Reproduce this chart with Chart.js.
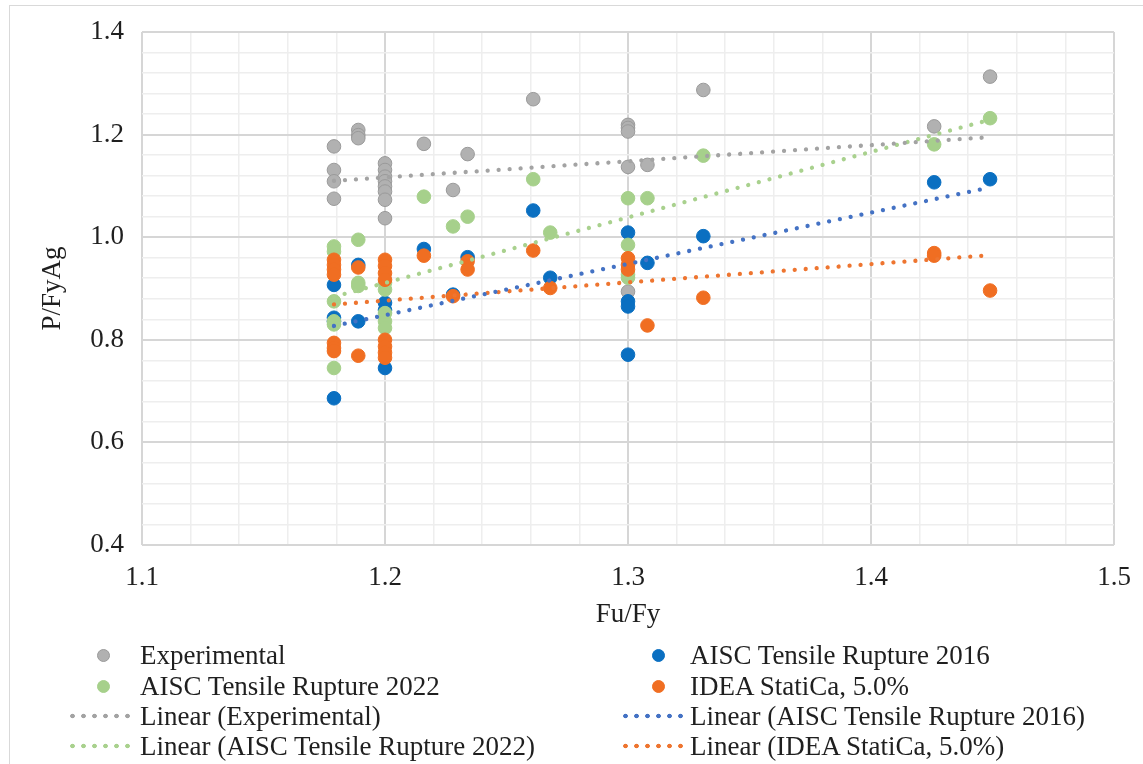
<!DOCTYPE html>
<html>
<head>
<meta charset="utf-8">
<script src="https://cdn.jsdelivr.net/npm/chart.js@4/dist/chart.umd.min.js"></script>
<style>
  html, body { margin: 0; padding: 0; background: #fff; overflow: hidden; }
  #wrap { position: relative; width: 1143px; height: 764px; overflow: hidden; }
  #frame { position: absolute; left: 9px; top: 5px; width: 1200px; height: 820px;
           border: 1.5px solid #d9d9d9; box-sizing: border-box; }
  #chart { position: absolute; left: 0; top: 0; }
  #legend { position: absolute; left: 0; top: 0; width: 1143px; height: 764px; pointer-events: none;
            font: 27px 'Liberation Serif', 'Times New Roman', serif; color: #1f1f1f; }
  .lg-text { position: absolute; height: 30px; line-height: 30px; white-space: nowrap; }
  .lg-dot { position: absolute; border-radius: 50%; box-sizing: border-box; }
  .lg-line { position: absolute; height: 6px; background-repeat: repeat-x; background-size: 11px 6px; }
</style>
</head>
<body>
<div id="wrap">
  <div id="frame"></div>
  <canvas id="chart" width="1143" height="764"></canvas>
  <div id="legend"></div>
</div>
<script>
// Fu/Fy ratio against normalised capacity P/FyAg
const expX = [1.179, 1.179, 1.179, 1.179, 1.189, 1.189, 1.189,
              1.2, 1.2, 1.2, 1.2, 1.2, 1.2, 1.2, 1.2,
              1.216, 1.228, 1.234, 1.261,
              1.3, 1.3, 1.3, 1.3, 1.3,
              1.308, 1.331, 1.426, 1.449];
const expY = [1.177, 1.131, 1.109, 1.075, 1.209, 1.199, 1.193,
              1.144, 1.131, 1.118, 1.109, 1.099, 1.089, 1.073, 1.037,
              1.182, 1.092, 1.162, 1.269,
              1.219, 1.213, 1.206, 1.137, 0.894,
              1.141, 1.287, 1.216, 1.313];

const aisc16X = [1.179, 1.179, 1.179, 1.179, 1.189, 1.189,
                 1.2, 1.2, 1.2,
                 1.216, 1.228, 1.234, 1.261, 1.268,
                 1.3, 1.3, 1.3, 1.3,
                 1.308, 1.331, 1.426, 1.449];
const aisc16Y = [0.907, 0.843, 0.836, 0.686, 0.946, 0.836,
                 0.872, 0.858, 0.745,
                 0.977, 0.888, 0.961, 1.052, 0.921,
                 1.009, 0.875, 0.865, 0.771,
                 0.950, 1.002, 1.107, 1.113];

const aisc22X = [1.179, 1.179, 1.179, 1.179, 1.179, 1.179,
                 1.189, 1.189, 1.189,
                 1.2, 1.2, 1.2, 1.2, 1.2,
                 1.216, 1.228, 1.234, 1.261, 1.268,
                 1.3, 1.3, 1.3, 1.3,
                 1.308, 1.331, 1.426, 1.449];
const aisc22Y = [0.982, 0.972, 0.875, 0.836, 0.830, 0.745,
                 0.995, 0.911, 0.905,
                 0.911, 0.898, 0.852, 0.836, 0.823,
                 1.079, 1.021, 1.040, 1.113, 1.009,
                 1.076, 0.985, 0.927, 0.921,
                 1.076, 1.159, 1.181, 1.232];

const ideaX = [1.179, 1.179, 1.179, 1.179, 1.179, 1.179, 1.179,
               1.189, 1.189,
               1.2, 1.2, 1.2, 1.2, 1.2, 1.2, 1.2, 1.2,
               1.216, 1.228, 1.234, 1.234, 1.261, 1.268,
               1.3, 1.3, 1.3,
               1.308, 1.331, 1.426, 1.426, 1.449];
const ideaY = [0.956, 0.946, 0.937, 0.927, 0.794, 0.784, 0.778,
               0.941, 0.769,
               0.956, 0.944, 0.930, 0.917, 0.800, 0.787, 0.775, 0.765,
               0.964, 0.885, 0.953, 0.937, 0.974, 0.901,
               0.959, 0.946, 0.937,
               0.828, 0.882, 0.969, 0.964, 0.896];

// Linear trend lines, end points over the tested Fu/Fy range
const trendX = [1.179, 1.449];
const trendExp = [1.110, 1.195];
const trendAisc16 = [0.827, 1.097];
const trendAisc22 = [0.884, 1.229];
const trendIdea = [0.869, 0.965];

// Axis tick labels
const xTickLabels = ['1.1', '1.2', '1.3', '1.4', '1.5'];
const yTickLabels = ['0.4', '0.6', '0.8', '1.0', '1.2', '1.4'];

const pts = (xs, ys) => xs.map((x, i) => ({ x: x, y: ys[i] }));

const FONT = "'Liberation Serif', 'Times New Roman', serif";
const TEXT = '#1f1f1f';

function pointSet(label, xs, ys, fill, stroke, order) {
  return {
    label, data: pts(xs, ys), order,
    backgroundColor: fill, borderColor: stroke, borderWidth: 1,
    pointRadius: 6.8, pointHoverRadius: 6.8, showLine: false, kind: 'point'
  };
}
function trendSet(label, ys, color) {
  return {
    label, data: pts(trendX, ys), order: 0,
    showLine: true, pointRadius: 0, borderColor: color, backgroundColor: color,
    borderWidth: 4.3, borderDash: [0.001, 11], borderCapStyle: 'round', kind: 'line'
  };
}

const datasets = [
  pointSet('Experimental', expX, expY, '#b1b1b1', '#9a9a9a', 4),
  pointSet('AISC Tensile Rupture 2016', aisc16X, aisc16Y, '#0a6fc1', '#0a6fc1', 3),
  pointSet('AISC Tensile Rupture 2022', aisc22X, aisc22Y, '#a6d08b', '#a6d08b', 2),
  pointSet('IDEA StatiCa, 5.0%', ideaX, ideaY, '#f06e22', '#f06e22', 1),
  trendSet('Linear (Experimental)', trendExp, '#a3a3a3'),
  trendSet('Linear (AISC Tensile Rupture 2016)', trendAisc16, '#4472c4'),
  trendSet('Linear (AISC Tensile Rupture 2022)', trendAisc22, '#a9d18e'),
  trendSet('Linear (IDEA StatiCa, 5.0%)', trendIdea, '#ee7530')
];

const isMajor = (v, step) => Math.abs(v / step - Math.round(v / step)) < 1e-6;

// Major lines darker, minor lines faint; tick marks kept invisible but used as label offset
function gridStyle(step, offset) {
  return {
    drawTicks: true,
    tickLength: offset,
    tickColor: 'rgba(0,0,0,0)',
    color: ctx => isMajor(ctx.tick.value, step) ? '#d6d6d6' : '#eeeeee',
    lineWidth: ctx => isMajor(ctx.tick.value, step) ? 2 : 1.5
  };
}

const labelFor = list => v => {
  const hit = list.find(t => Math.abs(parseFloat(t) - v) < 1e-6);
  return hit === undefined ? '' : hit;
};

const chart = new Chart(document.getElementById('chart'), {
  type: 'scatter',
  data: { datasets },
  options: {
    responsive: false,
    animation: false,
    layout: { padding: { left: 0, right: 29, top: 32, bottom: 119 } },
    plugins: { legend: { display: false }, tooltip: { enabled: false } },
    scales: {
      x: {
        type: 'linear',
        min: parseFloat(xTickLabels[0]), max: parseFloat(xTickLabels[xTickLabels.length - 1]),
        grid: gridStyle(0.1, 17),
        border: { display: false },
        afterFit: s => { s.height = 100; },
        ticks: {
          stepSize: 0.02, autoSkip: false, maxRotation: 0, padding: 0,
          color: TEXT, font: { family: FONT, size: 27 },
          callback: labelFor(xTickLabels)
        },
        title: { display: true, text: 'Fu/Fy', color: TEXT, font: { family: FONT, size: 27 },
                 padding: { top: 0, bottom: 14 } }
      },
      y: {
        type: 'linear',
        min: parseFloat(yTickLabels[0]), max: parseFloat(yTickLabels[yTickLabels.length - 1]),
        grid: gridStyle(0.2, 18),
        border: { display: false },
        afterFit: s => { s.width = 142; },
        ticks: {
          stepSize: 0.04, autoSkip: false, padding: 0,
          color: TEXT, font: { family: FONT, size: 27 },
          callback: labelFor(yTickLabels)
        },
        title: { display: true, text: 'P/FyAg', color: TEXT, font: { family: FONT, size: 27 },
                 padding: { top: 37, bottom: 0 } }
      }
    }
  }
});

// Two-column legend built from the chart's datasets
(function buildLegend() {
  const box = document.getElementById('legend');
  const rowY = [655, 686, 716, 746];
  const markerX = [103, 658];
  const lineX = [[70, 134], [623, 686]];
  const textX = [140, 690];
  chart.data.datasets.forEach((ds, i) => {
    const col = i % 2, row = Math.floor(i / 2), y = rowY[row];
    if (ds.kind === 'point') {
      const d = document.createElement('div');
      d.className = 'lg-dot';
      const size = 13;
      d.style.cssText = `left:${markerX[col] - size / 2}px;top:${y - size / 2}px;width:${size}px;height:${size}px;` +
        `background:${ds.backgroundColor};border:1px solid ${ds.borderColor};`;
      box.appendChild(d);
    } else {
      const l = document.createElement('div');
      l.className = 'lg-line';
      const [x0, x1] = lineX[col];
      l.style.cssText = `left:${x0}px;top:${y - 3}px;width:${x1 - x0}px;` +
        `background-image:radial-gradient(circle at 2.5px 3px, ${ds.borderColor} 2px, transparent 2.6px);`;
      box.appendChild(l);
    }
    const t = document.createElement('div');
    t.className = 'lg-text';
    t.style.left = textX[col] + 'px';
    t.style.top = (y - 15) + 'px';
    t.textContent = ds.label;
    box.appendChild(t);
  });
})();
</script>
</body>
</html>
